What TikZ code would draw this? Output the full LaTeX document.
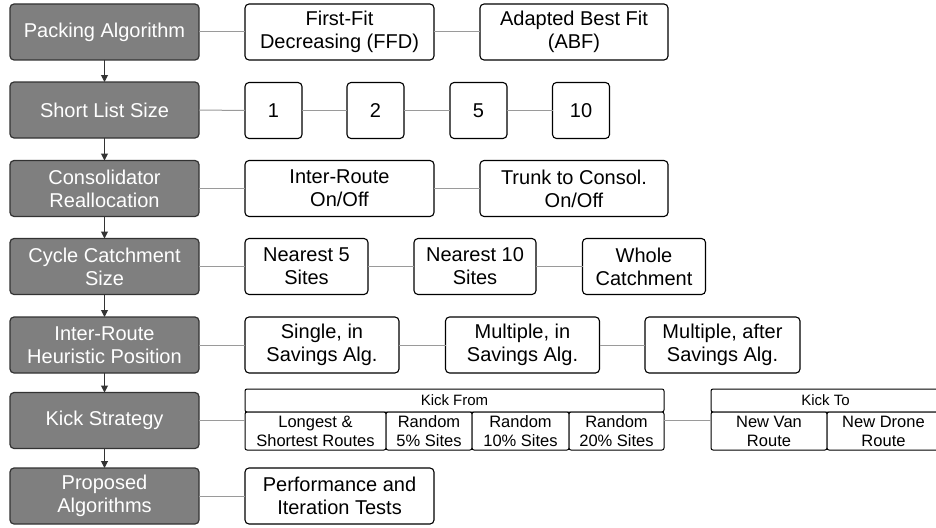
\documentclass[tikz,border=0pt]{standalone}
\usepackage{fontspec}
\setmainfont{Liberation Sans}
\usetikzlibrary{arrows.meta,calc}
\definecolor{catfill}{HTML}{7F7F7F}
\definecolor{catline}{HTML}{333333}
\definecolor{connline}{HTML}{9A9A9A}
\begin{document}
\begin{tikzpicture}[x=1pt,y=-1pt,
 cat/.style={draw=catline, fill=catfill, line width=1.2pt, rounded corners=4pt, minimum width=189pt, minimum height=56pt, inner sep=0pt, outer sep=0pt, text=white, align=center, font=\fontsize{20}{23}\selectfont},
 opt/.style={draw=black, fill=white, line width=1.1pt, rounded corners=4pt, minimum height=56pt, inner sep=0pt, outer sep=0pt, align=center, font=\fontsize{20}{23}\selectfont},
 hdr/.style={draw=black, fill=white, line width=1pt, rounded corners=2pt, minimum height=23pt, inner sep=0pt, outer sep=0pt, font=\fontsize{15}{17}\selectfont},
 cell/.style={draw=black, fill=white, line width=1pt, rounded corners=2pt, minimum height=38pt, inner sep=0pt, outer sep=0pt, align=center, font=\fontsize{16.5}{19}\selectfont},
 conn/.style={draw=connline, line width=1pt},
 flow/.style={draw=catline, line width=1pt, -{Triangle[length=7pt,width=7pt]}}]
\useasboundingbox (0,0) rectangle (936,527);

% category boxes
\node[cat] (g1) at (104.5,32) {Packing Algorithm};
\node[cat] (g2) at (104.5,110) {Short List Size};
\node[cat] (g3) at (104.5,188.5) {Consolidator\\Reallocation};
\node[cat] (g4) at (104.5,266.5) {Cycle Catchment\\Size};
\node[cat] (g5) at (104.5,345) {Inter-Route\\Heuristic Position};
\node[cat] (g6) at (104.5,420.5) {Kick Strategy};
\node[cat] (g7) at (104.5,496) {Proposed\\Algorithms};

\draw[flow] (g1.south) -- (g2.north);
\draw[flow] (g2.south) -- (g3.north);
\draw[flow] (g3.south) -- (g4.north);
\draw[flow] (g4.south) -- (g5.north);
\draw[flow] (g5.south) -- (g6.north);
\draw[flow] (g6.south) -- (g7.north);

% row 1
\node[opt, minimum width=189pt] (ffd) at (339.5,32) {First-Fit\\Decreasing (FFD)};
\node[opt, minimum width=188pt] (abf) at (574,32) {Adapted Best Fit\\(ABF)};
\draw[conn] (g1) -- (ffd);
\draw[conn] (ffd) -- (abf);

% row 2
\node[opt, minimum width=57pt] (s1) at (273.5,110.5) {1};
\node[opt, minimum width=57pt] (s2) at (375.5,110.5) {2};
\node[opt, minimum width=57pt] (s5) at (478.5,110.5) {5};
\node[opt, minimum width=57pt] (s10) at (581,110.5) {10};
\draw[conn] (g2.east) -- (s1.west);
\draw[conn] (s1) -- (s2);
\draw[conn] (s2) -- (s5);
\draw[conn] (s5) -- (s10);

% row 3
\node[opt, minimum width=189pt] (ir) at (339.5,188.5) {Inter-Route\\On/Off};
\node[opt, minimum width=188pt] (tc) at (574,188.5) {Trunk to Consol.\\On/Off};
\draw[conn] (g3) -- (ir);
\draw[conn] (ir) -- (tc);

% row 4
\node[opt, minimum width=123pt] (n5) at (306.5,266.5) {Nearest 5\\Sites};
\node[opt, minimum width=122pt] (n10) at (475,266.5) {Nearest 10\\Sites};
\node[opt, minimum width=123pt] (wc) at (644,266.5) {Whole\\Catchment};
\draw[conn] (g4) -- (n5);
\draw[conn] (n5) -- (n10);
\draw[conn] (n10) -- (wc);

% row 5
\node[opt, minimum width=154pt] (si) at (322,345) {Single, in\\Savings Alg.};
\node[opt, minimum width=154pt] (mi) at (522.5,345) {Multiple, in\\Savings Alg.};
\node[opt, minimum width=155pt] (ma) at (722.5,345) {Multiple, after\\Savings Alg.};
\draw[conn] (g5) -- (si);
\draw[conn] (si) -- (mi);
\draw[conn] (mi) -- (ma);

% row 6 : kick from
\node[hdr, minimum width=419pt] (kf) at (454.5,400.5) {Kick From};
\node[cell, minimum width=141pt] (kf1) at (315.5,431) {Longest \&\\Shortest Routes};
\node[cell, minimum width=86pt] (kf2) at (429,431) {Random\\5\% Sites};
\node[cell, minimum width=97pt] (kf3) at (520.5,431) {Random\\10\% Sites};
\node[cell, minimum width=95pt] (kf4) at (616.5,431) {Random\\20\% Sites};
% kick to
\node[hdr, minimum width=229pt] (kt) at (825.5,400.5) {Kick To};
\node[cell, minimum width=116pt] (kt1) at (769,431) {New Van\\Route};
\node[cell, minimum width=113pt] (kt2) at (883.5,431) {New Drone\\Route};
\draw[conn] (g6.east) -- (g6.east -| kf1.west);
\draw[conn] (g6.east -| kf4.east) -- (g6.east -| kt1.west);

% row 7
\node[opt, minimum width=189pt] (pt) at (339.5,496) {Performance and\\Iteration Tests};
\draw[conn] (g7) -- (pt);
\end{tikzpicture}
\end{document}
